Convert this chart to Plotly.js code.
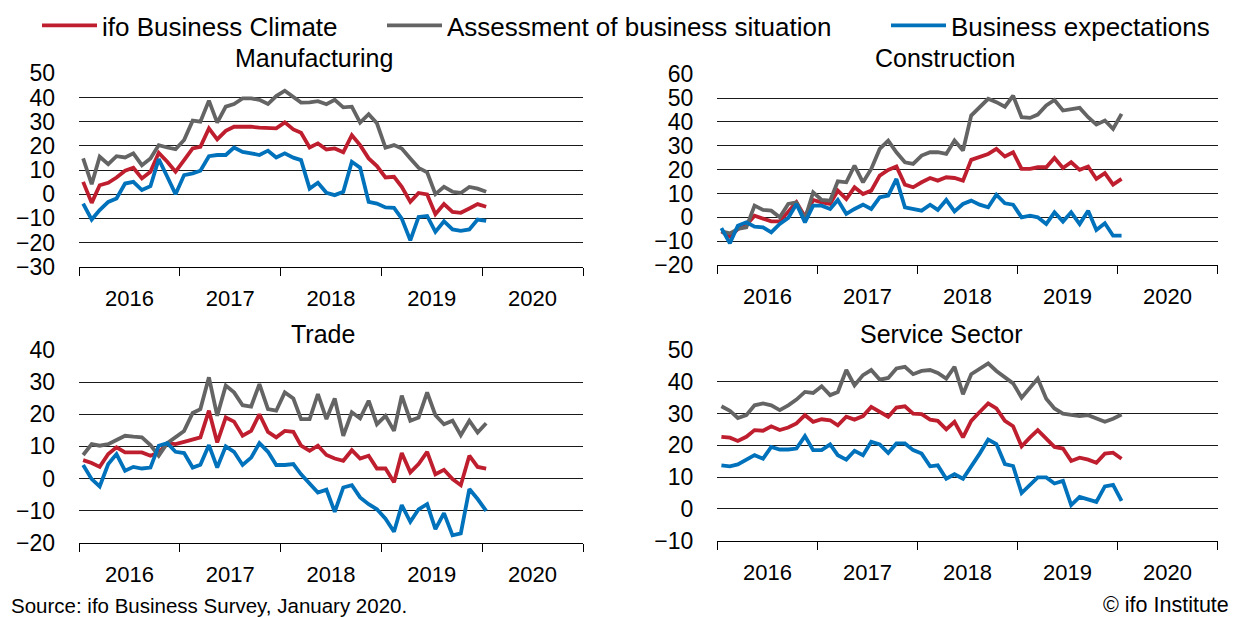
<!DOCTYPE html>
<html>
<head>
<meta charset="utf-8">
<script src="https://cdn.plot.ly/plotly-3.0.1.min.js"></script>
<style>html,body{margin:0;padding:0;background:#fff;}#chart{width:1247px;height:617px;}</style>
</head>
<body>
<div id="chart"></div>
<script>
// ---- data (monthly balances, Jan 2016 - Jan 2020) ----
const seriesNames = ["ifo Business Climate", "Assessment of business situation", "Business expectations"];
const panelTitles = ["Manufacturing", "Construction", "Trade", "Service Sector"];
const yearLabels = ["2016", "2017", "2018", "2019", "2020"];

const manufClimate = [5.1,-3.6,3.7,4.7,6.9,9.7,10.9,6.5,9.3,17.1,13.4,9.3,14.1,18.9,19.6,27.2,22.7,26.2,27.9,27.9,27.9,27.5,27.2,27.2,29.7,26.8,25.4,19.3,21,18.5,18.9,17.3,24.4,20.3,14.8,11.6,6.9,7.2,3,-3.2,0.5,-0.1,-8.3,-4.1,-7.3,-7.7,-5.9,-4.1,-5.2];
const manufSituation = [14.8,4.1,15.5,12.4,15.7,15.2,16.9,12,14.8,20.3,19.3,18.6,22.4,30.4,30,38.7,29.6,36.2,37.3,39.6,39.6,39,37.3,40.6,42.8,40,37.9,38,38.5,37.2,39,35.9,36.2,29.6,33.1,29.3,19.2,20.3,18.9,14.8,10.9,9,0,3,1,0.5,3,2.3,1];
const manufExpect = [-3.9,-10.5,-6.6,-3.2,-1.8,4.4,5.1,1.7,3.3,14.5,7.2,0,7.9,8.6,9.7,15.7,16.2,16.2,19.3,17.5,16.9,16.2,18,15.2,16.9,15.1,14.1,2.3,4.7,0.6,-0.4,1,13.4,11,-3.2,-3.9,-5.5,-5.7,-10.1,-19.1,-9.4,-9,-15.6,-11.2,-14.6,-15.2,-14.6,-10.5,-11];

const constrClimate = [-5.9,-8.1,-4.9,-3.2,0.7,-0.7,-1.7,-1.7,2.5,6.3,0.3,7.3,6.3,5.6,11.2,7.7,12.6,9.8,11.2,17.5,19.9,21.3,13.7,12.6,14.7,16.5,15.4,16.8,16.5,15.4,24.1,25.2,26.6,28.7,25.5,27.3,20.3,20.3,21,21,24.9,20.7,23.1,19.9,21.3,16.1,18.5,13.7,16.1];
const constrSituation = [-5.9,-6.7,-4.9,-4.2,4.9,3.1,2.8,0,5.6,6.3,-0.7,10.5,7.3,7,15.1,14.7,21.7,14.7,20.3,28.7,32.2,27.3,23.1,22.4,25.9,27.3,27.3,26.6,32.2,28,42.7,46.2,49.7,48.3,46.4,51,42,41.7,43.1,46.9,49.2,44.8,45.5,45.9,42,38.9,40.6,37.1,43.4];
const constrExpect = [-4.5,-10.9,-3.5,-2.1,-3.9,-4.2,-6.3,-2.8,-0.3,5.6,-2.1,4.9,4.9,3.5,7.3,1.4,3.5,5.3,3.5,8.4,9.1,16.1,4.2,3.5,2.8,5.3,3.1,7.3,2.5,5.6,7,5.3,4.2,9.5,5.9,5.3,0,0.7,0,-2.8,2.1,-1.8,2.1,-2.8,2.8,-5.3,-2.5,-7.7,-7.7];

const tradeClimate = [5.7,4.8,3.6,7.6,9.7,8.1,8.1,8.1,7.1,8.1,11,10.7,11.4,12,12.8,21.1,11.2,19,17.7,13.3,14.8,20,14.5,12.8,14.8,14.5,10.2,8.6,10.2,7.3,6.2,5.5,8.8,6.2,7.1,3.1,3.1,-1.2,7.9,1.9,4.5,8.3,1.3,2.7,-0.2,-2.1,7.1,3.6,3.1];
const tradeSituation = [7.3,10.7,10.2,10.7,12,13.3,13,12.8,10.4,7.1,11,12.8,14.8,20.4,21.6,31.5,19.5,28.9,26.8,22.8,22.4,29.4,21.6,21.1,26.8,24.9,18.5,18.5,26.3,18.5,24.9,13.3,20.6,18.7,24.2,16.9,19.5,14.8,25.8,18,19,26.8,19.7,16.9,18,13.5,18,14.3,17.2];
const tradeExpect = [4.2,-0.2,-2.5,4.5,7.6,2.4,3.6,3.1,3.4,10.2,11,8.3,7.9,3.4,4.3,10.4,3.4,10,8.3,4.2,6.5,11,8.3,4.2,4.2,4.5,1.3,-1.5,-4.4,-3.5,-10.4,-2.8,-2.1,-5.9,-8,-9.6,-12.5,-16.6,-8.3,-13.5,-9.6,-8,-15.8,-10.8,-17.7,-17.1,-3.3,-6.4,-10.1];

const serviceClimate = [22.7,22.4,21.4,22.7,24.8,24.6,26,24.8,25.6,26.9,29.5,27.4,28.2,27.9,26.3,29,28.1,29.2,32.1,30.5,29,31.9,32.3,30,29.8,28.1,27.7,25,27.4,22.5,27.7,30.5,33.2,31.6,27.7,26,19.7,22.5,24.8,22.1,19.5,19,15.1,16.1,15.5,14.5,17.4,17.7,15.8];
const serviceSituation = [32.3,30.9,28.6,29.5,32.6,33.2,32.6,31.1,32.6,34.4,36.8,36.5,38.6,35.8,36.8,43.7,38.9,42.1,43.7,40.7,41.2,44.2,44.7,42.4,43.4,43.7,42.8,41,44.7,36.1,42.4,44.2,45.8,43.4,41.6,39.5,35,38.4,41,34.7,31.6,30,29.5,29.2,29.5,28.4,27.4,28.4,29.7];
const serviceExpect = [13.7,13.4,14,15.5,16.9,15.8,19.5,18.7,18.7,19,22.9,18.5,18.5,20.3,16.9,15.5,18.3,16.9,21.1,20.3,17.6,20.6,20.6,18.5,17.4,13.4,13.7,9.5,10.9,9.5,13.2,17.4,21.8,20.4,14.1,13.5,5,7.8,9.9,9.9,8,8.8,1.2,3.8,2.9,2.2,7.1,7.6,2.5];

// month categories (mid-month dates), Jan 2016 .. Jan 2020
const months = [];
for (let y = 2016; y <= 2020; y++) {
  for (let m = 1; m <= 12; m++) {
    if (y === 2020 && m > 1) break;
    months.push(y + "-" + String(m).padStart(2, "0") + "-16");
  }
}

// ---- styling ----
const W = 1247, H = 617;
const colors = ["#BE1E2D", "#646464", "#0072BC"];
const FONT = "Liberation Sans, Arial, sans-serif";
const px = v => v / W;
const py = v => 1 - v / H;

const panels = [
  {data: [manufClimate, manufSituation, manufExpect], x0: 79, x1: 583, yTop: 73.3, yBot: 266.7, range: [-30, 50], tx: 314, ty: 58},
  {data: [constrClimate, constrSituation, constrExpect], x0: 717.3, x1: 1217.7, yTop: 74.3, yBot: 265, range: [-20, 60], tx: 945, ty: 58},
  {data: [tradeClimate, tradeSituation, tradeExpect], x0: 79, x1: 583, yTop: 350, yBot: 542.7, range: [-20, 40], tx: 323, ty: 334},
  {data: [serviceClimate, serviceSituation, serviceExpect], x0: 717.3, x1: 1217.7, yTop: 350, yBot: 540.7, range: [-10, 50], tx: 941, ty: 334}
];

const legendIds = ["legend", "legend2", "legend3"];
const legendX = [37, 382, 886];

const traces = [];
const layout = {
  width: W, height: H,
  margin: {l: 0, r: 0, t: 0, b: 0},
  paper_bgcolor: "#fff", plot_bgcolor: "#fff",
  font: {family: FONT, color: "#000", size: 22},
  showlegend: true,
  annotations: [],
};
legendIds.forEach((id, i) => {
  layout[id] = {
    orientation: "h", x: px(legendX[i]), xanchor: "left", y: py(2), yanchor: "top",
    font: {size: 26, family: FONT, color: "#000"}, itemwidth: 55,
    bgcolor: "rgba(0,0,0,0)"
  };
});

panels.forEach((p, k) => {
  const n = k === 0 ? "" : String(k + 1);
  p.data.forEach((vals, s) => {
    traces.push({
      type: "scatter", mode: "lines",
      x: months, y: vals,
      name: seriesNames[s],
      xaxis: "x" + n, yaxis: "y" + n,
      line: {color: colors[s], width: 3.8},
      showlegend: k === 0,
      legend: legendIds[s],
      hoverinfo: "skip"
    });
  });
  layout["xaxis" + n] = {
    domain: [px(p.x0), px(p.x1)],
    anchor: "y" + n,
    type: "date",
    range: ["2016-01-01", "2021-01-01"],
    tick0: "2016-01-01", dtick: "M12",
    ticklabelmode: "period", tickformat: "%Y",
    ticks: "outside", ticklen: 8, tickwidth: 1, tickcolor: "#000",
    showline: true, linecolor: "#000", linewidth: 1,
    showgrid: false, zeroline: false,
    tickfont: {size: 22, family: FONT, color: "#000"},
    ticklabelstandoff: 4,
    fixedrange: true
  };
  layout["yaxis" + n] = {
    domain: [py(p.yBot), py(p.yTop)],
    anchor: "x" + n,
    range: p.range, dtick: 10, tick0: 0,
    showgrid: true, gridcolor: "#1a1a1a", gridwidth: 1,
    zeroline: false, showline: false, ticks: "",
    tickfont: {size: 23, family: FONT, color: "#000"},
    ticklabelstandoff: 23,
    fixedrange: true
  };
  layout.annotations.push({
    text: panelTitles[k], xref: "paper", yref: "paper",
    x: px(p.tx), y: py(p.ty), xanchor: "center", yanchor: "middle",
    showarrow: false, font: {size: 25, family: FONT, color: "#000"}
  });
});

layout.annotations.push({
  text: "Source: ifo Business Survey, January 2020.", xref: "paper", yref: "paper",
  x: px(9), y: py(605), xanchor: "left", yanchor: "middle",
  showarrow: false, font: {size: 20.5, family: FONT, color: "#000"}
});
layout.annotations.push({
  text: "© ifo Institute", xref: "paper", yref: "paper",
  x: px(1231), y: py(605), xanchor: "right", yanchor: "middle",
  showarrow: false, font: {size: 21.5, family: FONT, color: "#000"}
});

Plotly.newPlot("chart", traces, layout, {displayModeBar: false, staticPlot: true});
</script>
</body>
</html>
